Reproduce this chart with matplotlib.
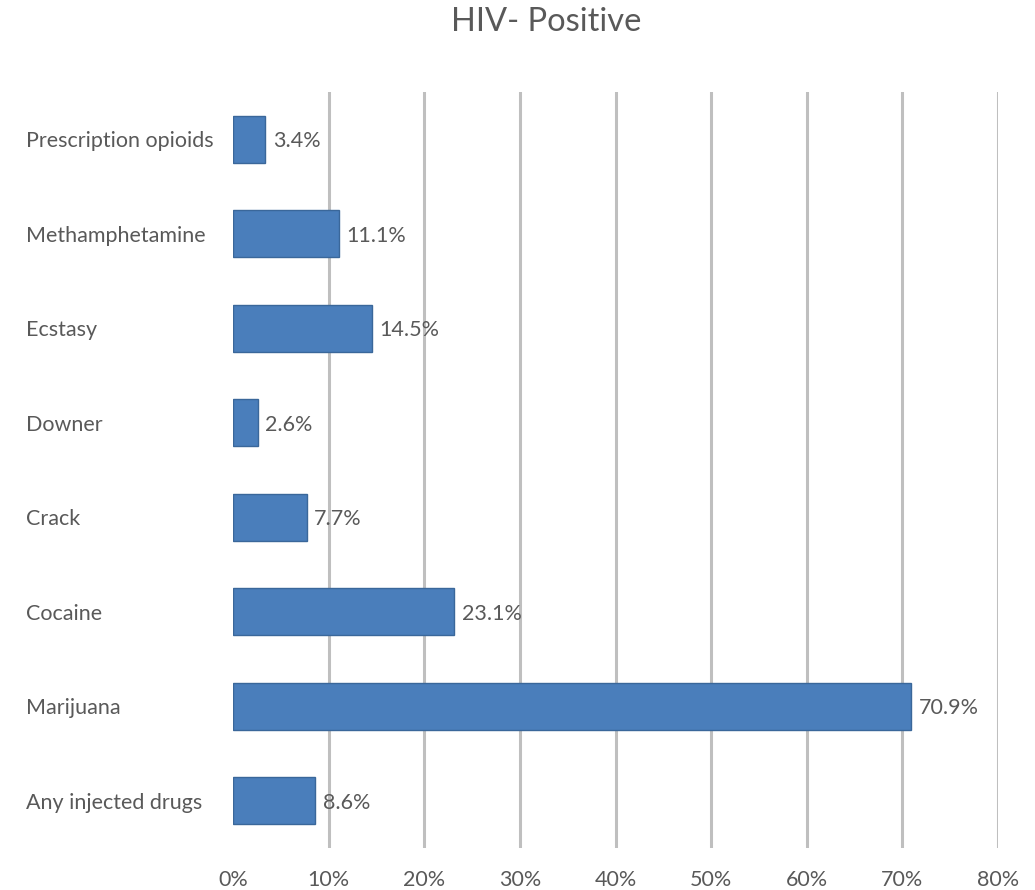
import matplotlib
matplotlib.use("Agg")
import matplotlib.pyplot as plt
from matplotlib.ticker import FuncFormatter
from matplotlib.transforms import blended_transform_factory

categories = ["Prescription opioids", "Methamphetamine", "Ecstasy", "Downer",
              "Crack", "Cocaine", "Marijuana", "Any injected drugs"]
values = [3.4, 11.1, 14.5, 2.6, 7.7, 23.1, 70.9, 8.6]
xticks = [0, 10, 20, 30, 40, 50, 60, 70, 80]

plt.rcParams['font.family'] = ['Lato', 'DejaVu Sans']
txt = '#595959'
fs = 15.5

fig = plt.figure(figsize=(10.35, 8.9), dpi=100)
ax = fig.add_axes([0.2251, 0.0472, 0.7392, 0.8494])

n = len(categories)
ypos = list(range(n))
ax.barh(ypos, values, height=0.5, color='#4A7EBB', edgecolor='#3A679A', linewidth=1, zorder=3)
ax.set_ylim(n - 0.5, -0.5)
ax.set_xlim(0, 80)
ax.set_xticks(xticks)
ax.xaxis.set_major_formatter(FuncFormatter(lambda v, p: f"{v:.0f}%"))
ax.set_yticks([])

trans = blended_transform_factory(fig.transFigure, ax.transData)
for y, c in zip(ypos, categories):
    ax.text(26 / 1035, y, c, transform=trans, ha='left', va='center_baseline',
            fontsize=fs, color=txt, clip_on=False)

for y, v in zip(ypos, values):
    ax.text(v + 0.8, y, f"{v}%", va='center_baseline', ha='left', fontsize=fs, color=txt, zorder=4)

for g in xticks[1:]:
    ax.axvline(g, color='#BFBFBF', linewidth=2.2, zorder=1)

for s in ax.spines.values():
    s.set_visible(False)
ax.tick_params(axis='both', length=0, labelsize=fs, colors=txt)
ax.tick_params(axis='x', pad=16)

fig.text(0.5275, 0.992, "HIV- Positive", ha='center', va='top', fontsize=23.5, color=txt)

fig.savefig("out.png", dpi=100, facecolor='white')
